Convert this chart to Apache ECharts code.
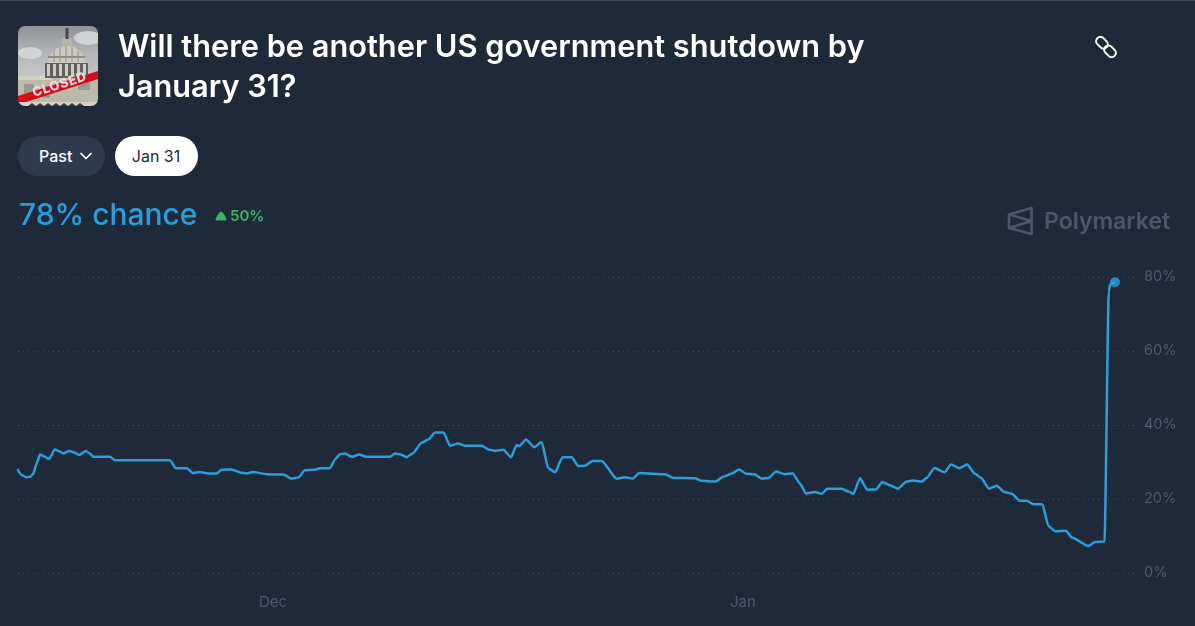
<!DOCTYPE html>
<html><head><meta charset="utf-8">
<style>
html,body{margin:0;padding:0;background:#1e2a39;width:1195px;height:626px;overflow:hidden;font-family:Inter,"Open Sans",sans-serif}
#topline{position:absolute;left:0;top:0;width:1195px;height:1px;background:#3a4b5a}
#chart{position:absolute;left:0;top:0;width:1195px;height:626px}
.t{position:absolute;white-space:nowrap}
#title{left:118px;top:26px;font-size:30.75px;line-height:40px;font-weight:600;color:#fff}
#past{left:18px;top:136px;width:87px;height:40px;border-radius:20px;background:#2c3c4e;color:#fff;font-size:16px;font-weight:500;line-height:40px;text-indent:21px}
#jan{left:115px;top:136px;width:82px;height:40px;border-radius:20px;background:#fff;color:#1e2a39;font-size:16px;font-weight:400;line-height:40px;text-align:center;padding-right:1px}
#chance{left:19px;top:195px;font-size:30px;line-height:38px;font-weight:500;color:#2d9cdb;letter-spacing:-0.05px}
#delta{left:230px;top:206px;font-size:15px;line-height:20px;font-weight:600;color:#3db468}
#brand{left:1044px;top:205px;font-size:23px;line-height:32px;font-weight:600;color:#47596b}
svg{position:absolute}
</style></head><body>
<div id="chart"></div>
<div id="topline"></div>
<svg style="left:18px;top:26px" width="80" height="80" viewBox="0 0 80 80">
 <defs>
  <clipPath id="c"><rect width="80" height="80" rx="7"/></clipPath>
  <linearGradient id="sky" x1="0" y1="0" x2="0" y2="1"><stop offset="0" stop-color="#8f9296"/><stop offset="0.35" stop-color="#b4b6b9"/><stop offset="0.7" stop-color="#c9cacb"/></linearGradient>
  <filter id="b"><feGaussianBlur stdDeviation="0.45"/></filter>
 </defs>
 <g clip-path="url(#c)"><g filter="url(#b)">
  <rect width="80" height="80" fill="url(#sky)"/>
  <ellipse cx="12" cy="27" rx="12" ry="6" fill="#d2d3d4"/>
  <ellipse cx="70" cy="12" rx="14" ry="7" fill="#d0d1d2"/>
  <rect y="52" width="80" height="28" fill="#bdb9ab"/>
  <rect y="50" width="34" height="4" fill="#d3d0c5"/>
  <rect x="64" y="50" width="16" height="4" fill="#d3d0c5"/>
  <rect x="27" y="37" width="43" height="15" fill="#5f615f"/>
  <path d="M29 38h3v12h-3zM35 38h3v12h-3zM41 38h3v12h-3zM47 38h3v12h-3zM53 38h3v12h-3zM59 38h3v12h-3zM65 38h3v12h-3z" fill="#cfccc1"/>
  <path d="M30 37C31 26 39 20 48.500 20C58 20 66 26 67 37Z" fill="#cbc9c1"/>
  <path d="M36 36V24M42 36V21M48 36V20M54 36V21M60 36V25" stroke="#8f8e88" stroke-width="1"/>
  <rect x="30" y="30" width="37" height="2" fill="#8f8e88"/>
  <path d="M44 20V13C44 11 54 11 54 13V20Z" fill="#b5b3ac"/>
  <rect x="47.500" y="2" width="3" height="11" fill="#45484e"/>
  <path d="M6 58h10v14H6zM60 54h12v10H60zM24 60h8v12h-8z" fill="#9c998e"/>
  <path d="M0 70L80 45V53L8 76L0 78Z" fill="#d3101b"/>
  <rect y="76" width="80" height="4" fill="#d6d2c8"/>
  <path d="M10 80l4-3 4 3 4-3 4 3 4-3 4 3 4-3 4 3 4-3 4 3 4-3 4 3 4-3 4 3z" fill="#3d3d3a"/>
 </g>
 <text x="16" y="71" transform="rotate(-17.500 16 71)" font-size="13" font-weight="800" fill="#f0d6d6" font-family="Inter" letter-spacing="0.6">CLOSED</text>
 </g>
</svg>
<div class="t" id="title">Will there be another US government shutdown by<br>January 31?</div>
<svg style="left:1095px;top:36px" width="24" height="24" viewBox="0 0 24 24" fill="none" stroke="#fff" stroke-width="2">
 <rect x="0.500" y="2.500" width="13" height="8.500" rx="4.200" transform="rotate(45 7 6.750)"/>
 <rect x="8.500" y="11" width="13" height="8.500" rx="4.200" transform="rotate(45 15 15.250)"/>
</svg>
<div class="t" id="past">Past</div>
<svg style="left:79px;top:151px" width="14" height="10" viewBox="0 0 14 10" fill="none" stroke="#fff" stroke-width="1.7" stroke-linecap="round" stroke-linejoin="round"><path d="M2 2.500L7 7.500L12 2.500"/></svg>
<div class="t" id="jan">Jan 31</div>
<div class="t" id="chance">78% chance</div>
<svg style="left:214px;top:210px" width="14" height="12" viewBox="0 0 14 12"><path d="M7 2C9 2 12.500 9.500 12 10H2C1.500 9.500 5 2 7 2Z" fill="#3db468" stroke="#3db468" stroke-width="1" stroke-linejoin="round"/></svg>
<div class="t" id="delta">50%</div>
<svg style="left:1007px;top:206px" width="26" height="30" viewBox="0 0 26 30" fill="none" stroke="#47596b" stroke-width="2.6" stroke-linejoin="round"><path d="M24.500 2V28L2 22V8.500Z"/><path d="M2 8.500L24.500 15L2 22"/></svg>
<div class="t" id="brand">Polymarket</div>
<script src="https://cdn.jsdelivr.net/npm/echarts@6/dist/echarts.min.js"></script>
<script>
// days since Dec 1
const days = [-16.86,-16.58,-16.29,-16.03,-15.81,-15.59,-15.37,-15.04,-14.78,-14.38,-14.05,-13.83,-13.43,-13.13,-12.78,-12.34,-12.07,-11.85,-10.75,-10.42,-6.79,-6.42,-5.69,-5.30,-4.82,-4.27,-3.72,-3.39,-2.73,-2.07,-1.74,-1.30,-0.42,0.68,1.23,1.67,2.11,2.77,3.10,3.76,4.09,4.42,4.75,5.19,5.69,6.18,7.72,8.05,
8.38,8.82,9.21,9.81,10.25,10.69,11.24,11.68,12.22,12.67,13.77,14.20,14.64,15.19,15.70,16.07,16.25,16.69,17.22,17.72,18.16,18.60,19.10,19.70,20.14,20.58,21.09,21.68,22.67,23.22,23.72,24.16,25.86,26.41,27.84,28.28,29.16,29.71,30.26,30.74,31.21,31.75,32.24,32.68,33.18,33.77,34.28,
34.76,35.16,35.75,36.19,36.57,37.51,37.95,38.28,38.72,39.20,39.78,40.19,40.70,41.21,41.80,42.24,42.79,43.12,43.63,44.29,44.73,45.28,45.78,46.31,46.71,47.23,47.74,48.24,48.73,49.27,49.72,50.16,50.75,51.15,51.59,52.29,52.73,53.79,54.23,54.85,55.13,55.21,55.54];
const chance = [28.1,26.5,25.9,26.0,26.8,29.6,32.0,31.4,30.8,33.4,32.8,32.3,33.0,32.6,31.9,33.0,32.2,31.4,31.4,30.5,30.5,28.3,28.3,27.0,27.3,26.9,26.9,27.9,28.0,27.1,26.9,27.3,26.7,26.6,25.5,25.8,27.8,27.9,28.3,28.3,30.7,32.1,32.3,31.4,32.0,31.4,31.4,32.3,
32.1,31.3,32.3,35.2,36.1,38.0,38.0,34.4,35.0,34.4,34.4,33.4,33.0,33.3,31.3,34.6,34.3,36.1,34.0,35.4,28.3,27.2,31.3,31.3,28.9,29.0,30.3,30.3,25.5,25.9,25.5,27.0,26.7,25.7,25.6,24.9,24.7,26.0,26.9,28.0,26.8,26.7,25.5,25.7,27.4,26.7,26.9,
24.2,21.5,21.9,21.4,22.8,22.8,22.0,21.4,25.6,22.5,22.6,24.6,23.7,22.8,24.7,25.0,24.7,25.7,28.4,27.2,29.3,28.3,29.3,26.8,25.7,22.8,23.6,21.9,21.4,19.5,19.5,18.6,18.6,12.7,11.3,11.4,9.5,7.3,8.4,8.5,76.0,78.0,78.6];
const yTicks = [0,20,40,60,80];
const monthTicks = [{day:0,label:'Dec'},{day:31,label:'Jan'}];
const xMin = -16.82, xMax = 56.86;

const chart = echarts.init(document.getElementById('chart'), null, {renderer:'canvas'});
const pts = days.map((d,i)=>[d,chance[i]]);
const axisText = '#4b5c6e';
chart.setOption({
  animation:false,
  backgroundColor:'#1e2a39',
  grid:{left:18,right:60,top:277,bottom:53},
  xAxis:{type:'value',min:xMin,max:xMax,
    splitLine:{show:false},axisLine:{show:false},axisTick:{show:false},
    axisLabel:{customValues:monthTicks.map(m=>m.day),color:axisText,fontSize:15,fontFamily:'Inter',margin:22,
      formatter:v=>(monthTicks.find(m=>m.day===v)||{}).label||''}},
  yAxis:{type:'value',position:'right',min:yTicks[0],max:yTicks[yTicks.length-1],interval:20,
    splitLine:{show:true,lineStyle:{color:'#3a4a58',type:[1,4],width:1}},
    axisLine:{show:false},axisTick:{show:false},
    axisLabel:{color:axisText,fontSize:14.5,fontFamily:'Inter',margin:9,padding:[0,0,4,0],formatter:'{value}%'}},
  series:[
    {type:'line',data:pts,showSymbol:false,smooth:0.2,smoothMonotone:'x',lineStyle:{color:'#2f9cd9',width:2.5},itemStyle:{color:'#2f9cd9'}},
    {type:'scatter',data:[pts[pts.length-1]],symbolSize:10,itemStyle:{color:'#2f9fe2'}}
  ]
});
</script>
</body></html>
